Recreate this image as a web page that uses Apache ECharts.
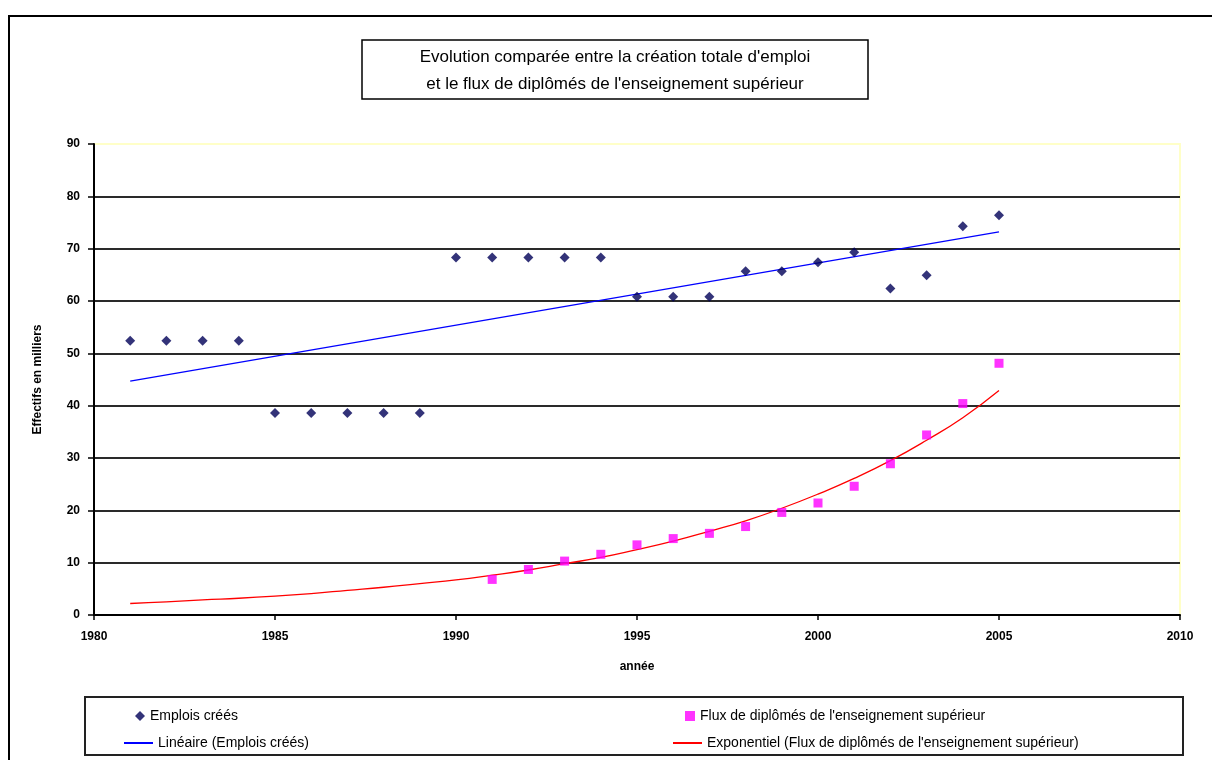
<!DOCTYPE html>
<html>
<head>
<meta charset="utf-8">
<script src="https://cdn.jsdelivr.net/npm/echarts@6/dist/echarts.min.js"></script>
<style>
html,body{margin:0;padding:0;background:#fff;}
#chart{width:1212px;height:760px;}
</style>
</head>
<body>
<div id="chart"></div>
<script>
// ---- data ----
const titleLines = ["Evolution comparée entre la création totale d'emploi", "et le flux de diplômés de l'enseignement supérieur"];
const xTitle = "année";
const yTitle = "Effectifs en milliers";

const emploisYears = [1981,1982,1983,1984,1985,1986,1987,1988,1989,1990,1991,1992,1993,1994,1995,1996,1997,1998,1999,2000,2001,2002,2003,2004,2005];
const emploisValues = [52.4,52.4,52.4,52.4,38.6,38.6,38.6,38.6,38.6,68.3,68.3,68.3,68.3,68.3,60.8,60.8,60.8,65.7,65.7,67.4,69.3,62.4,64.9,74.3,76.4];

const fluxYears = [1991,1992,1993,1994,1995,1996,1997,1998,1999,2000,2001,2002,2003,2004,2005];
const fluxValues = [6.8,8.7,10.3,11.6,13.4,14.6,15.6,16.9,19.6,21.4,24.6,28.9,34.4,40.4,48.1];

// trend lines as drawn in the reference
const linTrendYears = [1981, 2005];
const linTrendValues = [44.7, 73.2];
const expTrendYears = [1981,1982,1983,1984,1985,1986,1987,1988,1989,1990,1991,1992,1993,1994,1995,1996,1997,1998,1999,2000,2001,2002,2003,2004,2005];
const expTrendValues = [2.2,2.5,2.9,3.2,3.6,4.1,4.7,5.3,6.0,6.7,7.6,8.6,9.8,11.0,12.5,14.1,16.0,18.0,20.4,23.1,26.1,29.5,33.4,37.7,42.9];

const seriesNames = ["Emplois créés", "Linéaire (Emplois créés)", "Flux de diplômés de l'enseignement supérieur", "Exponentiel (Flux de diplômés de l'enseignement supérieur)"];

const zip = (xs, ys) => xs.map((x, i) => [x, ys[i]]);

const FONT = "'Liberation Sans', Arial, sans-serif";
const chart = echarts.init(document.getElementById('chart'), null, {renderer: 'canvas'});

const legendText = {fontFamily: FONT, fontSize: 14, color: '#000'};

const option = {
  animation: false,
  backgroundColor: '#ffffff',
  grid: {
    left: 94, right: 32, top: 144, bottom: 145,
    show: true, borderColor: '#ffffc8', borderWidth: 2, backgroundColor: 'transparent'
  },
  xAxis: {
    type: 'value', min: 1980, max: 2010, interval: 5,
    name: xTitle, nameLocation: 'middle', nameGap: 46,
    nameTextStyle: {fontFamily: FONT, fontSize: 12, fontWeight: 'bold', color: '#000'},
    axisLine: {show: true, lineStyle: {color: '#000', width: 2}},
    axisTick: {show: true, length: 5, lineStyle: {color: '#000', width: 1.5}},
    axisLabel: {fontFamily: FONT, fontSize: 12, fontWeight: 'bold', color: '#000', margin: 16,
      formatter: v => String(v)},
    splitLine: {show: false}
  },
  yAxis: {
    type: 'value', min: 0, max: 90, interval: 10,
    name: yTitle, nameLocation: 'middle', nameGap: 50, nameRotate: 90,
    nameTextStyle: {fontFamily: FONT, fontSize: 12, fontWeight: 'bold', color: '#000'},
    axisLine: {show: true, lineStyle: {color: '#000', width: 2}},
    axisTick: {show: true, length: 6, lineStyle: {color: '#000', width: 1.5}},
    axisLabel: {fontFamily: FONT, fontSize: 12, fontWeight: 'bold', color: '#000', margin: 14},
    splitLine: {show: true, showMaxLine: false, lineStyle: {color: '#2a2a2a', width: 2}}
  },
  legend: [
    {data: [{name: seriesNames[0], icon: 'diamond'}], left: 130, top: 704, itemWidth: 10, itemHeight: 10, textStyle: legendText},
    {data: [{name: seriesNames[1], icon: 'rect'}], left: 119, top: 731, itemWidth: 29, itemHeight: 2, textStyle: legendText},
    {data: [{name: seriesNames[2], icon: 'rect'}], left: 680, top: 704, itemWidth: 10, itemHeight: 10, textStyle: legendText},
    {data: [{name: seriesNames[3], icon: 'rect'}], left: 668, top: 731, itemWidth: 29, itemHeight: 2, textStyle: legendText}
  ],
  graphic: [
    {type: 'rect', shape: {x: 9, y: 16, width: 1230, height: 780}, style: {fill: 'none', stroke: '#000', lineWidth: 2}, silent: true},
    {type: 'rect', shape: {x: 362, y: 40, width: 506, height: 59}, style: {fill: '#fff', stroke: '#000', lineWidth: 1.5}, silent: true},
    {type: 'text', x: 615, y: 57, style: {text: titleLines[0], fontFamily: FONT, fontSize: 17, fill: '#000', align: 'center', verticalAlign: 'middle'}},
    {type: 'text', x: 615, y: 84, style: {text: titleLines[1], fontFamily: FONT, fontSize: 17, fill: '#000', align: 'center', verticalAlign: 'middle'}},
    {type: 'rect', z: -1, shape: {x: 85, y: 697, width: 1098, height: 58}, style: {fill: '#fff', stroke: '#222', lineWidth: 2}, silent: true}
  ],
  series: [
    {
      name: seriesNames[0], type: 'scatter', symbol: 'diamond', symbolSize: 10,
      itemStyle: {color: '#000058'},
      data: zip(emploisYears, emploisValues), z: 5
    },
    {
      name: seriesNames[1], type: 'line', symbol: 'none', showSymbol: false,
      lineStyle: {color: '#0000ff', width: 1.3},
      itemStyle: {color: '#0000ff'},
      data: zip(linTrendYears, linTrendValues), z: 3
    },
    {
      name: seriesNames[2], type: 'scatter', symbol: 'rect', symbolSize: 9,
      itemStyle: {color: '#ff00ff'},
      data: zip(fluxYears, fluxValues), z: 5
    },
    {
      name: seriesNames[3], type: 'line', symbol: 'none', showSymbol: false, smooth: true,
      lineStyle: {color: '#ff0000', width: 1.3},
      itemStyle: {color: '#ff0000'},
      data: zip(expTrendYears, expTrendValues), z: 3
    }
  ]
};
chart.setOption(option);
</script>
</body>
</html>
